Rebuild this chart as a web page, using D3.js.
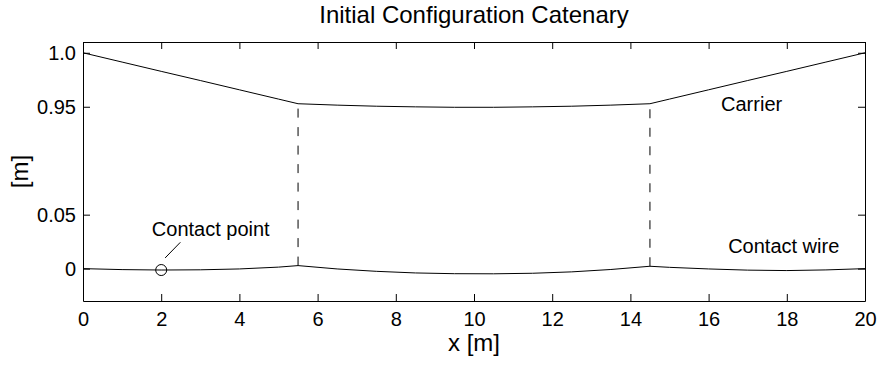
<!DOCTYPE html>
<html>
<head>
<meta charset="utf-8">
<script src="https://cdn.jsdelivr.net/npm/d3@7"></script>
<style>
  body { margin: 0; background: #fff; }
  text { font-family: "Liberation Sans", Arial, Helvetica, sans-serif; fill: #000; }
</style>
</head>
<body>
<div class="chartContainer"></div>
<script>
// positions along the span [m]
const xs = [0, 1, 2, 3, 4, 5, 5.5, 6.5, 7.5, 8.5, 9.5, 10.5, 11.5, 12.5, 13.5, 14.5, 15, 16, 17, 18, 19, 20];
// carrier height [m]
const carrier = [1.0, 0.9914, 0.9828, 0.9743, 0.9657, 0.9571, 0.9528, 0.9515, 0.9505, 0.9499, 0.9495,
                 0.9495, 0.9499, 0.9505, 0.9515, 0.9528, 0.9571, 0.9657, 0.9743, 0.9828, 0.9914, 1.0];
// contact wire height [m]
const contactWire = [0, -0.0009, -0.0013, -0.0011, -0.0003, 0.0014, 0.0028, -0.0003, -0.0025, -0.004, -0.0047,
                     -0.0048, -0.0043, -0.003, -0.0008, 0.0022, 0.0012, -0.0003, -0.0014, -0.0018, -0.0012, 0];
// droppers
const dropperX = [5.5, 14.5];
const contactPoint = { x: 2, y: -0.0013 };

const xTicks = [0, 2, 4, 6, 8, 10, 12, 14, 16, 18, 20];
const yTicks = [0, 0.05, 0.95, 1.0];
const yTickLabels = ['0', '0.05', '0.95', '1.0'];

const margins = { top: 42, left: 83, right: 13, bottom: 64 };
const width = 878, height = 365;

// broken y axis: carrier part is shifted down by 0.8
const brk = v => v > 0.5 ? v - 0.8 : v;

const xScale = d3.scaleLinear().domain([0, 20]).range([margins.left, width - margins.right]);
const yInner = d3.scaleLinear().domain([-0.03, 0.21]).range([height - margins.bottom, margins.top]);
const yScale = v => yInner(brk(v));

const svg = d3.select('.chartContainer').append('svg')
  .attr('width', width).attr('height', height);

// axes (box with inward ticks)
const fmtY = d => yTickLabels[yTicks.indexOf(d)];
const yTickPos = yTicks.map(brk);

svg.append('g')
  .attr('transform', `translate(0,${height - margins.bottom})`)
  .call(d3.axisBottom(xScale).tickValues(xTicks).tickFormat(d3.format('d'))
    .tickSizeInner(-7).tickSizeOuter(0).tickPadding(11));
svg.append('g')
  .attr('transform', `translate(0,${margins.top})`)
  .call(d3.axisTop(xScale).tickValues(xTicks).tickFormat('')
    .tickSizeInner(-7).tickSizeOuter(0));
svg.append('g')
  .attr('transform', `translate(${margins.left},0)`)
  .call(d3.axisLeft(yInner).tickValues(yTickPos)
    .tickFormat(d => yTickLabels[yTickPos.indexOf(d)])
    .tickSizeInner(-7).tickSizeOuter(0).tickPadding(7));
svg.append('g')
  .attr('transform', `translate(${width - margins.right},0)`)
  .call(d3.axisRight(yInner).tickValues(yTickPos).tickFormat('')
    .tickSizeInner(-7).tickSizeOuter(0));

svg.selectAll('.tick text').style('font-size', '20px').attr('fill', '#000');
svg.selectAll('.domain, .tick line').attr('stroke', '#000');

// lines
const line = d3.line().x(d => xScale(d[0])).y(d => yScale(d[1]));

svg.append('path')
  .datum(xs.map((x, i) => [x, carrier[i]]))
  .attr('d', line)
  .attr('fill', 'none').attr('stroke', '#000').attr('stroke-width', 1);

svg.append('path')
  .datum(xs.map((x, i) => [x, contactWire[i]]))
  .attr('d', line)
  .attr('fill', 'none').attr('stroke', '#000').attr('stroke-width', 1);

// droppers, drawn from contact wire up to carrier
svg.selectAll('.dropper')
  .data(dropperX)
  .enter()
  .append('line')
  .attr('class', 'dropper')
  .attr('x1', d => xScale(d))
  .attr('x2', d => xScale(d))
  .attr('y1', d => yScale(contactWire[xs.indexOf(d)]))
  .attr('y2', d => yScale(carrier[xs.indexOf(d)]))
  .attr('stroke', '#000').attr('stroke-width', 1)
  .attr('stroke-dasharray', '9,9.5');

// contact point
svg.append('circle')
  .attr('cx', xScale(contactPoint.x))
  .attr('cy', yScale(contactPoint.y))
  .attr('r', 5.5)
  .attr('fill', 'none').attr('stroke', '#000').attr('stroke-width', 1);

svg.append('line')
  .attr('x1', xScale(2.1)).attr('y1', yScale(0.0099))
  .attr('x2', xScale(2.49)).attr('y2', yScale(0.0244))
  .attr('stroke', '#000').attr('stroke-width', 1);

// labels
svg.append('text')
  .attr('x', xScale(1.76)).attr('y', yScale(0.030))
  .style('font-size', '20px')
  .text('Contact point');

svg.append('text')
  .attr('x', xScale(17.1)).attr('y', yScale(0.9456))
  .attr('text-anchor', 'middle')
  .style('font-size', '20px')
  .text('Carrier');

svg.append('text')
  .attr('x', xScale(16.5)).attr('y', yScale(0.0148))
  .style('font-size', '20px')
  .text('Contact wire');

svg.append('text')
  .attr('x', (margins.left + width - margins.right) / 2).attr('y', 23.3)
  .attr('text-anchor', 'middle')
  .style('font-size', '24px')
  .text('Initial Configuration Catenary');

svg.append('text')
  .attr('x', (margins.left + width - margins.right) / 2).attr('y', 351)
  .attr('text-anchor', 'middle')
  .style('font-size', '24px')
  .text('x [m]');

svg.append('text')
  .attr('transform', `translate(28.3,${(margins.top + height - margins.bottom) / 2}) rotate(-90)`)
  .attr('text-anchor', 'middle')
  .style('font-size', '24px')
  .text('[m]');
</script>
</body>
</html>
